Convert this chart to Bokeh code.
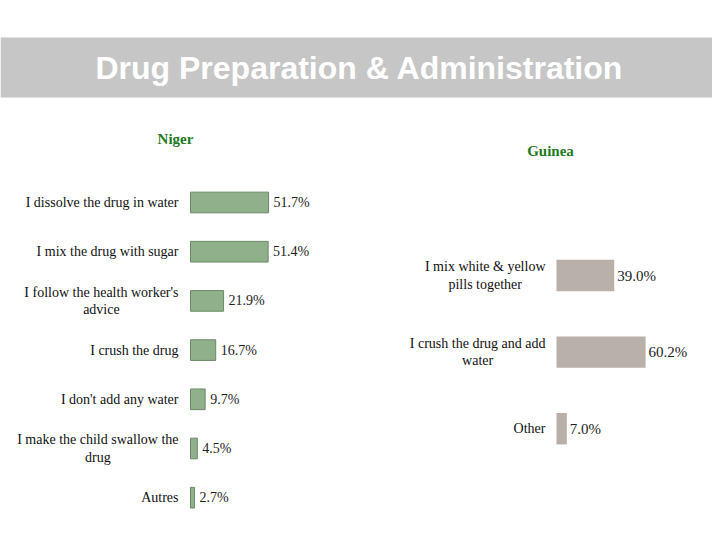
from bokeh.plotting import figure
from bokeh.models import Range1d, ColumnDataSource
from bokeh.core.properties import value
from bokeh.embed import file_html
from bokeh.resources import INLINE

# ---------------- data ----------------
title_text = "Drug Preparation & Administration"

niger_title = "Niger"
niger_labels = [
    "I dissolve the drug in water",
    "I mix the drug with sugar",
    "I follow the health worker's\nadvice",
    "I crush the drug",
    "I don't add any water",
    "I make the child swallow the\ndrug",
    "Autres",
]
niger_values = [51.7, 51.4, 21.9, 16.7, 9.7, 4.5, 2.7]

guinea_title = "Guinea"
guinea_labels = [
    "I mix white & yellow\npills together",
    "I crush the drug and add\nwater",
    "Other",
]
guinea_values = [39.0, 60.2, 7.0]

# ---------------- layout constants ----------------
W, H = 712, 532
SERIF = value("Liberation Serif")

p = figure(width=W, height=H, output_backend="svg", toolbar_location=None,
           x_range=Range1d(0, W), y_range=Range1d(H, 0),
           min_border=0, min_border_left=0, min_border_right=0,
           min_border_top=0, min_border_bottom=0)
p.axis.visible = False
p.grid.visible = False
p.outline_line_color = None
p.background_fill_color = "white"
p.border_fill_color = "white"

# Panel scales (pixels per percent, origin in page pixels)
n_zero, n_scale = 190, 1.51
n_top, n_step = 202, 49.2
g_zero, g_scale = 556, 1.48
g_top, g_step = 275, 76.6

p.extra_x_ranges = {
    "nx": Range1d(-n_zero / n_scale, (W - n_zero) / n_scale),
    "gx": Range1d(-g_zero / g_scale, (W - g_zero) / g_scale),
}
p.extra_y_ranges = {
    "ny": Range1d((H - n_top) / n_step, -n_top / n_step),
    "gy": Range1d((H - g_top) / g_step, -g_top / g_step),
}

# Title banner
p.quad(left=0, right=W, top=37, bottom=97, fill_color="#c6c6c6", line_color=None)
p.text(x=[359], y=[67], text=[title_text], text_font=value("Liberation Sans"),
       text_font_size="32px", text_font_style="bold", text_color="white",
       text_align="center", text_baseline="middle")

# ---------------- Niger ----------------
nsrc = ColumnDataSource(dict(
    y=list(range(len(niger_labels))), v=niger_values, lab=niger_labels,
    vl=[f"{v:.1f}%" for v in niger_values], zero=[0] * len(niger_values)))
p.hbar(y="y", left="zero", right="v", height=0.42, source=nsrc,
       fill_color="#8fb08a", line_color="#6b8a66", line_width=1,
       x_range_name="nx", y_range_name="ny")
p.text(x="zero", y="y", text="lab", source=nsrc, x_offset=-12,
       anchor="center_right", text_align="center", text_font=SERIF,
       text_font_size="14px", text_color="#111111", text_line_height=1.15,
       x_range_name="nx", y_range_name="ny")
p.text(x="v", y="y", text="vl", source=nsrc, x_offset=5, text_align="left",
       text_baseline="middle", text_font=SERIF, text_font_size="14px",
       text_color="#222222", x_range_name="nx", y_range_name="ny")
p.text(x=[175], y=[138], text=[niger_title], text_font=SERIF, text_font_size="15px",
       text_font_style="bold", text_color="#1f7a1f", text_align="center",
       text_baseline="middle")

# ---------------- Guinea ----------------
gsrc = ColumnDataSource(dict(
    y=list(range(len(guinea_labels))), v=guinea_values, lab=guinea_labels,
    vl=[f"{v:.1f}%" for v in guinea_values], zero=[0] * len(guinea_values)))
p.hbar(y="y", left="zero", right="v", height=0.41, source=gsrc,
       fill_color="#b8b0a9", line_color=None,
       x_range_name="gx", y_range_name="gy")
p.text(x="zero", y="y", text="lab", source=gsrc, x_offset=-11,
       anchor="center_right", text_align="center", text_font=SERIF,
       text_font_size="14px", text_color="#111111", text_line_height=1.15,
       x_range_name="gx", y_range_name="gy")
p.text(x="v", y="y", text="vl", source=gsrc, x_offset=3, text_align="left",
       text_baseline="middle", text_font=SERIF, text_font_size="15px",
       text_color="#222222", x_range_name="gx", y_range_name="gy")
p.text(x=[550], y=[150], text=[guinea_title], text_font=SERIF, text_font_size="15px",
       text_font_style="bold", text_color="#1f7a1f", text_align="center",
       text_baseline="middle")

open("out.html", "w").write(file_html(p, INLINE))
